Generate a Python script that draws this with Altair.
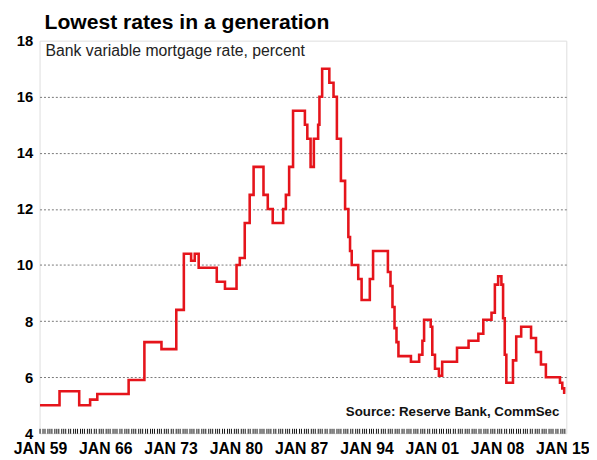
import altair as alt
import pandas as pd

# Bank variable mortgage rate (percent), step changes
years = [1959.0, 1961.09, 1963.2, 1964.37, 1965.14, 1968.5, 1970.19, 1972.02, 1973.61,
         1974.42, 1975.2, 1975.59, 1976.01, 1977.95, 1978.83, 1980.07, 1980.42, 1980.95,
         1981.48, 1981.9, 1982.96, 1983.42, 1983.95, 1985.07, 1985.36, 1985.71, 1986.13,
         1987.4, 1987.66, 1988.01, 1988.36, 1988.82, 1988.96, 1989.25, 1990.02, 1990.47,
         1990.83, 1991.26, 1991.71, 1992.06, 1992.24, 1992.42, 1993.12, 1993.48, 1994.36,
         1994.71, 1996.3, 1996.58, 1996.79, 1997.01, 1997.22, 1997.43, 1998.77, 1999.65,
         2000.0, 2000.18, 2000.89, 2001.06, 2001.35, 2001.77, 2002.12, 2003.71, 2004.95,
         2006.0, 2006.53, 2007.41, 2007.77, 2008.12, 2008.47, 2008.65, 2008.83, 2009.0,
         2009.71, 2010.06, 2010.59, 2011.65, 2012.18, 2012.71, 2013.24, 2014.75, 2015.0,
         2015.2, 2015.33]
rates = [5.0, 5.5, 5.0, 5.2, 5.4, 5.9, 7.25, 7.0, 8.4,
         10.4, 10.15, 10.4, 9.9, 9.4, 9.15, 10.0, 10.25, 11.5,
         12.5, 13.5, 12.5, 12.0, 11.5, 12.0, 12.5, 13.5, 15.5,
         15.0, 14.5, 13.5, 14.5, 15.0, 16.0, 17.0, 16.5, 16.0,
         14.5, 13.0, 12.0, 11.0, 10.5, 10.0, 9.5, 8.75, 9.5,
         10.5, 9.75, 9.25, 8.5, 7.75, 7.25, 6.75, 6.55, 6.8,
         7.3, 8.05, 7.8, 6.8, 6.3, 6.05, 6.55, 7.05, 7.3,
         7.55, 8.05, 8.3, 9.3, 9.6, 9.3, 8.1, 6.8, 5.8,
         6.6, 7.45, 7.8, 7.4, 6.9, 6.45, 6.0, 5.8, 5.6,
         5.45, 5.45]

y_ticks = [4, 6, 8, 10, 12, 14, 16, 18]
title_text = "Lowest rates in a generation"
subtitle_text = "Bank variable mortgage rate, percent"
source_text = "Source: Reserve Bank, CommSec"

df = pd.DataFrame({"year": years, "rate": rates})

FONT = "Liberation Sans"
quarter_ticks = [1959 + 0.25 * i for i in range(226)]

x_scale = alt.Scale(domain=[1958.95, 2015.43], nice=False, zero=False)
y_scale = alt.Scale(domain=[4, 18], nice=False, zero=False)

line = alt.Chart(df).mark_line(
    interpolate="step-after", color="#e5141b", strokeWidth=2.6
).encode(
    x=alt.X("year:Q", scale=x_scale, title=None,
            axis=alt.Axis(values=quarter_ticks,
                          labelExpr="(datum.value - 1959) % 7 == 0 ? 'JAN ' + substring(toString(datum.value), 2, 4) : ''",
                          labelOverlap=False, labelBound=False, labelFlush=False,
                          tickSize=5, tickColor="#111", tickWidth=1, offset=-5,
                          domain=False, grid=False,
                          labelFont=FONT, labelFontSize=16, labelFontWeight="bold",
                          labelColor="#000", labelPadding=8)),
    y=alt.Y("rate:Q", scale=y_scale, title=None,
            axis=alt.Axis(values=y_ticks, tickSize=0, domain=False,
                          grid=True, gridDash=[2, 2], gridColor="#777", gridWidth=1,
                          gridOpacity={"condition": {"test": "datum.value == 4 || datum.value == 18", "value": 0}, "value": 1},
                          labelFont=FONT, labelFontSize=15, labelFontWeight="bold",
                          labelColor="#000", labelPadding=7)),
)

one = alt.Data(values=[{}])

title = alt.Chart(one).mark_text(
    align="left", baseline="alphabetic", font=FONT, fontSize=21.4, fontWeight="bold", color="#000"
).encode(x=alt.value(5), y=alt.value(-12), text=alt.value(title_text))

subtitle = alt.Chart(one).mark_text(
    align="left", baseline="alphabetic", font=FONT, fontSize=16, color="#222"
).encode(x=alt.value(6), y=alt.value(16), text=alt.value(subtitle_text))

source = alt.Chart(one).mark_text(
    align="right", baseline="alphabetic", font=FONT, fontSize=13.5, fontWeight="bold", color="#111"
).encode(x=alt.value(527), y=alt.value(380), text=alt.value(source_text))

chart = alt.layer(line, title, subtitle, source).properties(
    width=534, height=398,
    autosize=alt.AutoSizeParams(type="none"),
    padding={"left": 32, "top": 30, "right": 23, "bottom": 24},
).configure_view(stroke="#555", strokeWidth=1.6).configure(background="white")

chart.save("out.html", embed_options={"renderer": "svg", "actions": False})
